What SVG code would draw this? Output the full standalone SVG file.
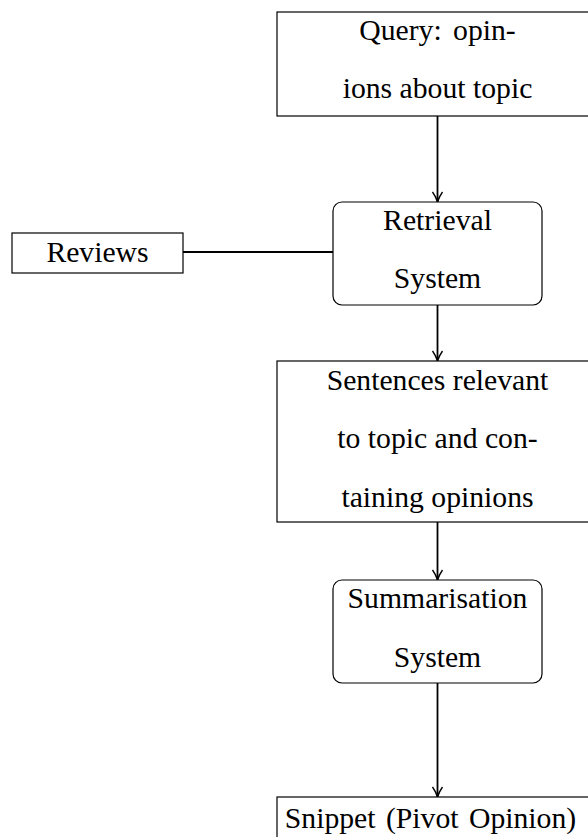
<svg xmlns="http://www.w3.org/2000/svg" width="588" height="837" viewBox="0 0 588 837">
<style>
.box{fill:#fff;stroke:#000;stroke-width:1.2}
.t{font-family:"Liberation Serif","Times New Roman",serif;font-size:29.7px;fill:#000;text-anchor:middle}
.c{stroke:#000;stroke-width:1.8;fill:none}
</style>
<defs>
<marker id="arr" viewBox="0 0 12 12" refX="11" refY="6" markerWidth="12" markerHeight="12" markerUnits="userSpaceOnUse" orient="auto">
<path d="M1,1 Q6,4.5 11,6 Q6,7.5 1,11" fill="none" stroke="#000" stroke-width="1.4"/>
</marker>
</defs>
<rect width="588" height="837" fill="#fff"/>
<g id="connectors">
<line class="c" x1="437.5" y1="116" x2="437.5" y2="202" marker-end="url(#arr)"/>
<line class="c" x1="183" y1="252" x2="333" y2="252"/>
<line class="c" x1="437.5" y1="305" x2="437.5" y2="361" marker-end="url(#arr)"/>
<line class="c" x1="437.5" y1="522" x2="437.5" y2="580" marker-end="url(#arr)"/>
<line class="c" x1="437.5" y1="683" x2="437.5" y2="797" marker-end="url(#arr)"/>
</g>
<g id="query">
<rect class="box" x="277" y="12" width="321" height="104"/>
<text class="t" x="437.5" y="40" style="word-spacing:4px">Query: opin-</text>
<text class="t" x="437.5" y="98">ions about topic</text>
</g>
<g id="reviews">
<rect class="box" x="12" y="233" width="171" height="40"/>
<text class="t" x="97.5" y="262">Reviews</text>
</g>
<g id="retrieval">
<rect class="box" x="333" y="202" width="209" height="103" rx="9"/>
<text class="t" x="437.5" y="230">Retrieval</text>
<text class="t" x="437.5" y="288">System</text>
</g>
<g id="sentences">
<rect class="box" x="277" y="361" width="321" height="161"/>
<text class="t" x="437.5" y="390">Sentences relevant</text>
<text class="t" x="437.5" y="448">to topic and con-</text>
<text class="t" x="437.5" y="507">taining opinions</text>
</g>
<g id="summarisation">
<rect class="box" x="333" y="580" width="209" height="103" rx="9"/>
<text class="t" x="437.5" y="608">Summarisation</text>
<text class="t" x="437.5" y="667">System</text>
</g>
<g id="snippet">
<rect class="box" x="277" y="797" width="321" height="60"/>
<text class="t" x="430.5" y="828" style="word-spacing:3px">Snippet (Pivot Opinion)</text>
</g>
</svg>
